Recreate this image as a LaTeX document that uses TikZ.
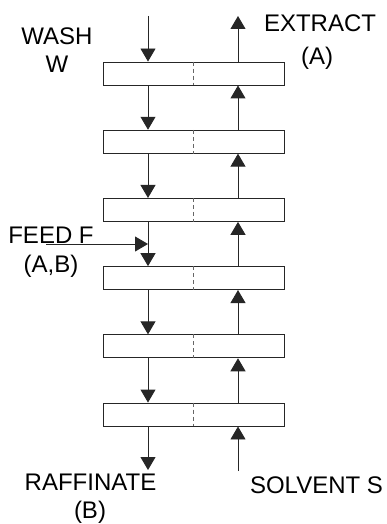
\documentclass[tikz,border=0pt]{standalone}
\usepackage{fontspec}
\setmainfont{Liberation Sans}
\usetikzlibrary{arrows.meta}
\begin{document}
\begin{tikzpicture}[x=1pt,y=-1pt,
  stage/.style={draw=black!85,line width=0.9pt,minimum width=181pt,minimum height=23pt,inner sep=0pt,fill=white},
  flow/.style={draw=black!85,line width=0.9pt,-{Triangle[length=13pt,width=15pt]}},
  lbl/.style={anchor=base,inner sep=0pt,font=\fontsize{24}{28}\selectfont},
  sep/.style={draw=black!60,line width=0.9pt,dash pattern=on 4pt off 3pt}]
\useasboundingbox (0,0) rectangle (387,524);
\foreach \i in {1,...,6}{
  \node[stage] (b\i) at (193.5,{73.5+68.2*(\i-1)}) {};
  \draw[sep] (b\i.north) -- (b\i.south);
}
\coordinate (lx) at (148,0);
\coordinate (rx) at (238,0);
\coordinate (wtop) at (148,16);
\coordinate (etop) at (238,16);
\coordinate (rbot) at (148,470);
\coordinate (sbot) at (238,471);
\coordinate (fstart) at (46,244);
\coordinate (ftip) at (148,244);
% wash in
\draw[flow] (wtop) -- (wtop |- b1.north);
% extract out
\draw[flow] (etop |- b1.north) -- (etop);
% internal streams
\foreach \i/\j in {1/2,2/3,3/4,4/5,5/6}{
  \draw[flow] (lx |- b\i.south) -- (lx |- b\j.north);
  \draw[flow] (rx |- b\j.north) -- (rx |- b\i.south);
}
% raffinate out
\draw[flow] (lx |- b6.south) -- (rbot);
% solvent in
\draw[flow] (sbot) -- (rx |- b6.south);
% feed
\draw[flow] (fstart) -- (ftip);
% labels
\node[lbl] (wash) at (57,45) {WASH};
\node[lbl] (w) at (57,73) {W};
\node[lbl] (extract) at (320,32) {EXTRACT};
\node[lbl] (a) at (317,65) {(A)};
\node[lbl] (feed) at (51,243) {FEED F};
\node[lbl] (ab) at (51,272) {(A,B)};
\node[lbl] (raff) at (90.5,490) {RAFFINATE};
\node[lbl] (b) at (90,518) {(B)};
\node[lbl] (solv) at (316.5,493) {SOLVENT S};
\end{tikzpicture}
\end{document}
